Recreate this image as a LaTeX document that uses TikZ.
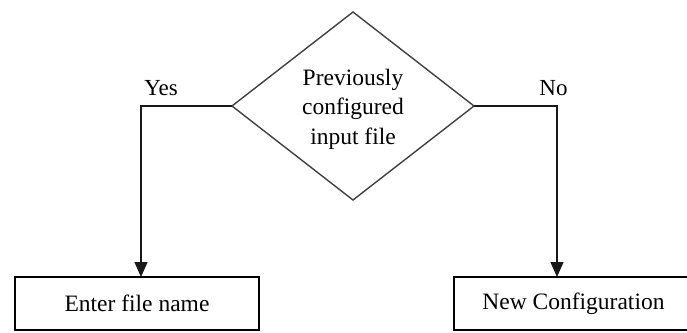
\documentclass[tikz,border=0pt]{standalone}
\usepackage{fontspec}
\setmainfont{Liberation Serif}
\usetikzlibrary{shapes.geometric,arrows.meta}

\tikzset{
  flowline/.style={line width=1.5pt, draw=black!90},
  flowarrow/.style={flowline, -{Triangle[length=15pt,width=13pt]}},
  decision/.style={shape=diamond, draw=black!75, line width=1.4pt,
    minimum width=242pt, minimum height=188pt, inner sep=0pt, outer sep=0pt},
  decisiontext/.style={align=center, inner sep=0pt, font=\fontsize{23.5}{29.5}\selectfont},
  process/.style={rectangle, draw=black, line width=1.5pt, outer sep=0pt,
    minimum height=53pt, font=\fontsize{23.5}{28}\selectfont},
  branchlabel/.style={anchor=base, inner sep=0pt, font=\fontsize{23}{28}\selectfont}
}

\begin{document}
\begin{tikzpicture}[x=1pt, y=-1pt]
  \useasboundingbox (0,0) rectangle (687,332);

  % decision
  \node[decision] (d) at (353,106) {};
  \node[decisiontext] (dtext) at (353,109) {Previously\\configured\\input file};

  % outcomes
  \node[process, minimum width=244pt] (enter) at (137,303.5) {Enter file name};
  \node[process, minimum width=239pt] (newcfg) at (573.5,303.5) {New Configuration};

  % branch corners
  \coordinate (yescorner) at (141,106);
  \coordinate (nocorner) at (557,106);

  % branches
  \draw[flowarrow] (d.west) -- (yescorner) -- (yescorner |- enter.north);
  \draw[flowarrow] (d.east) -- (nocorner) -- (nocorner |- newcfg.north);

  % branch labels
  \node[branchlabel] (yeslbl) at (161,95) {Yes};
  \node[branchlabel] (nolbl) at (553.5,95) {No};
\end{tikzpicture}
\end{document}
